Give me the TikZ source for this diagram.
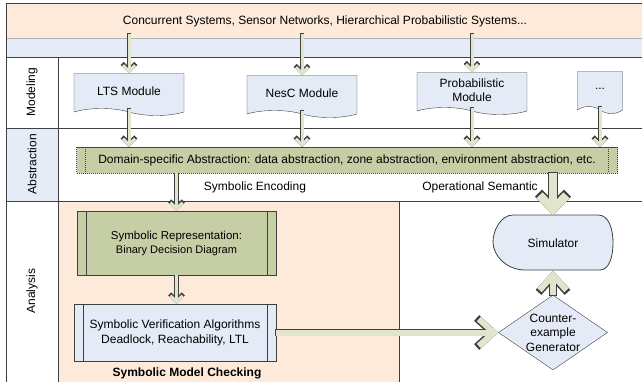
\documentclass[tikz,border=0pt]{standalone}
\usepackage{fontspec}
\setmainfont{Liberation Sans}
\usetikzlibrary{arrows.meta, positioning, shapes.geometric, shapes.symbols, calc}
\definecolor{bandpeach}{RGB}{253,234,218}
\definecolor{bandblue}{RGB}{229,236,247}
\definecolor{docblue}{RGB}{229,235,246}
\definecolor{boxolive}{RGB}{198,206,166}
\definecolor{arrowfill}{RGB}{226,229,206}
\definecolor{edgegray}{RGB}{64,64,64}

\begin{document}
\begin{tikzpicture}[
  x=1pt, y=-1pt,
  font=\fontsize{12}{14}\selectfont,
  lane/.style={draw=edgegray, line width=0.9pt},
  rowlabel/.style={rotate=90, inner sep=0pt},
  doc/.style={tape, tape bend top=none, tape bend bottom=out and in, tape bend height=7pt, draw=edgegray, fill=docblue, minimum width=110pt, minimum height=42pt, align=center, inner sep=1pt},
  proc/.style={draw=edgegray, align=center, inner sep=1pt, path picture={
      \draw[edgegray] ([xshift=9pt]path picture bounding box.north west) -- ([xshift=9pt]path picture bounding box.south west)
        ([xshift=-9pt]path picture bounding box.north east) -- ([xshift=-9pt]path picture bounding box.south east);}},
  absbox/.style={draw=edgegray, fill=boxolive, dash pattern=on 1.2pt off 0.8pt, minimum width=541pt, minimum height=26pt, inner sep=1pt, path picture={
      \draw[edgegray, dash pattern=on 1.2pt off 0.8pt] ([xshift=9pt]path picture bounding box.north west) -- ([xshift=9pt]path picture bounding box.south west)
        ([xshift=-9pt]path picture bounding box.north east) -- ([xshift=-9pt]path picture bounding box.south east);}},
  decision/.style={diamond, draw=edgegray, fill=docblue, minimum width=109pt, minimum height=75pt, inner sep=0pt},
  simnode/.style={minimum width=119pt, minimum height=55pt, inner sep=0pt},
  % hollow block arrows: dark outline underneath, light body on top
  flow/.style={line width=3pt, draw=arrowfill, -{Straight Barb[length=6pt, width=12pt]},
    preaction={draw=edgegray, line width=4.4pt, shorten <=-0.7pt, -{Straight Barb[length=6.8pt, width=13.6pt]}}},
  flowmid/.style={line width=6pt, draw=arrowfill, -{Straight Barb[length=15pt, width=27pt]},
    preaction={draw=edgegray, line width=7.6pt, shorten <=-0.8pt, -{Straight Barb[length=16pt, width=29pt]}}},
  flowbig/.style={line width=8.4pt, draw=arrowfill, -{Straight Barb[length=14pt, width=27pt]},
    preaction={draw=edgegray, line width=10pt, shorten <=-0.8pt, -{Straight Barb[length=15pt, width=29pt]}}}
]
\clip (0,0) rectangle (642,381);

% bands and swimlanes
\fill[bandpeach] (6,3) rectangle (650,38);
\fill[bandblue] (6,38) rectangle (650,57);
\fill[bandblue] (6,128) rectangle (58,201);
\fill[bandpeach] (58,201) rectangle (399,390);
\draw[gray!60, line width=0.5pt] (6,38) -- (650,38);
\draw[lane] (6,390) -- (6,3) -- (650,3);
\draw[lane] (6,57) -- (650,57);
\draw[lane] (6,128) -- (650,128);
\draw[lane] (6,201) -- (650,201);
\draw[lane] (58,57) -- (58,390);
\draw[lane] (399,201) -- (399,390);

\node[rowlabel] (lblmodel) at (32,92) {Modeling};
\node[rowlabel] (lblabs) at (32,164) {Abstraction};
\node[rowlabel] (lblana) at (32,291) {Analysis};

\node (hdr) at (325,21) {Concurrent Systems, Sensor Networks, Hierarchical Probabilistic Systems...};

% modeling row
\node[doc] (lts) at (129,91) {LTS Module};
\node[doc] (nesc) at (302,93) {NesC Module};
\node[doc] (prob) at (472,90) {Probabilistic\\Module};
\node[doc, minimum width=45pt] (more) at (600,89) {...};

% abstraction row
\node[absbox] (abs) at (347,160) {Domain-specific Abstraction: data abstraction, zone abstraction, environment abstraction, etc.};
\node (enc) at (255,187) {Symbolic Encoding};
\node (opsem) at (480,187) {Operational Semantic};

% analysis row
\node[proc, fill=boxolive, minimum width=199pt, minimum height=64pt] (symrep) at (176.5,243)
  {\fontsize{11.5}{14}\selectfont Symbolic Representation:\\\fontsize{11}{14}\selectfont Binary Decision Diagram};
\node[proc, fill=docblue, minimum width=202pt, minimum height=57pt, font=\fontsize{12}{15}\selectfont] (verif) at (175,332.5)
  {Symbolic Verification Algorithms\\Deadlock, Reachability, LTL};
\node[font=\fontsize{12}{14}\selectfont\bfseries] (smc) at (187,373) {Symbolic Model Checking};

\coordinate (simc) at (553,243);
\draw[edgegray, fill=docblue, line width=0.8pt, shift={(simc)}]
  (-40,-28) -- (45,-28) .. controls (56,-28) and (60,-14) .. (60,0)
  .. controls (60,14) and (56,27) .. (47,27) -- (-28,27)
  .. controls (-46,27) and (-60,13) .. (-60,-1)
  .. controls (-60,-13) and (-52,-28) .. (-40,-28) -- cycle;
\node[simnode] (sim) at (simc) {Simulator};
\node[decision, label={[align=center, font=\fontsize{12}{14.5}\selectfont]center:Counter-\\example\\Generator}] (cexgen) at (553,332.5) {};

% connectors
\draw[flow] ($(hdr.south -| lts.north)+(0,4)$) -- (lts.north);
\draw[flow] ($(hdr.south -| nesc.north)+(0,4)$) -- (nesc.north);
\draw[flow] ($(hdr.south -| prob.north)+(0,4)$) -- (prob.north);
\draw[flow] (lts.south) -- (lts.south |- abs.north);
\draw[flow] (nesc.south) -- (nesc.south |- abs.north);
\draw[flow] (prob.south) -- (prob.south |- abs.north);
\draw[flow] (more.south) -- (more.south |- abs.north);
\draw[flow] (abs.south -| symrep.north) -- (symrep.north);
\draw[flow] (symrep.south) -- (verif.north -| symrep.south);
\draw[flowbig] (abs.south -| sim.north) -- (sim.north);
\draw[flowmid] (verif.east) -- (cexgen.west);
\draw[flowmid] (cexgen.north) -- (sim.south);

\end{tikzpicture}
\end{document}
